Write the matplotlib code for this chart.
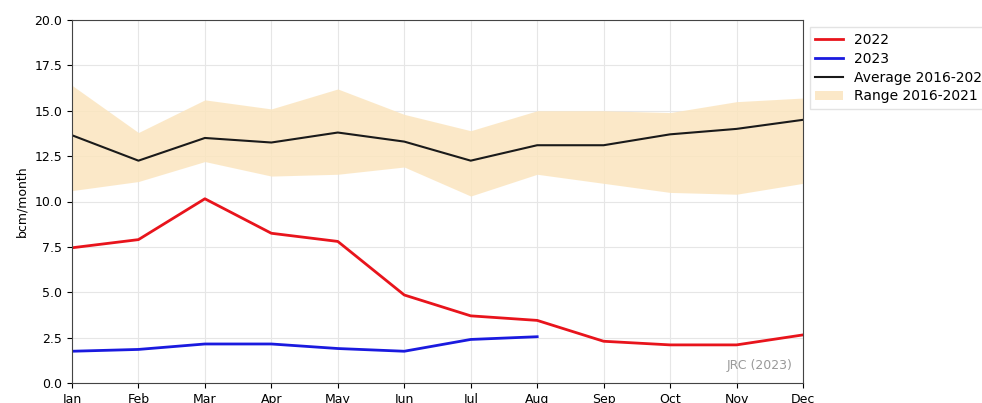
import numpy as np
import matplotlib.pyplot as plt

months = ['Jan', 'Feb', 'Mar', 'Apr', 'May', 'Jun', 'Jul', 'Aug', 'Sep', 'Oct', 'Nov', 'Dec']
y2022 = [7.45, 7.9, 10.15, 8.25, 7.8, 4.85, 3.7, 3.45, 2.3, 2.1, 2.1, 2.65]
y2023 = [1.75, 1.85, 2.15, 2.15, 1.9, 1.75, 2.4, 2.55]
avg = [13.65, 12.25, 13.5, 13.25, 13.8, 13.3, 12.25, 13.1, 13.1, 13.7, 14.0, 14.5]
range_hi = [16.4, 13.8, 15.6, 15.1, 16.2, 14.8, 13.9, 15.0, 15.0, 14.9, 15.5, 15.7]
range_lo = [10.6, 11.1, 12.2, 11.4, 11.5, 11.9, 10.3, 11.5, 11.0, 10.5, 10.4, 11.0]

x = np.arange(len(months))

fig = plt.figure(figsize=(9.82, 4.03), dpi=100)
ax = fig.add_axes([0.0733, 0.0496, 0.7444, 0.9008])

ax.plot(x, y2022, color='#e8141c', linewidth=2, label='2022')
ax.plot(x[:len(y2023)], y2023, color='#1a1adf', linewidth=2, label='2023')
ax.plot(x, avg, color='#1a1a1a', linewidth=1.5, label='Average 2016-2021')
ax.fill_between(x, range_lo, range_hi, color='#fbe5bf', alpha=0.85, linewidth=0, label='Range 2016-2021')

ax.set_xlim(0, 11)
ax.set_ylim(0, 20)
ax.set_xticks(x)
ax.set_xticklabels(months, fontsize=9)
ax.set_yticks(np.arange(0, 20.1, 2.5))
ax.tick_params(axis='y', labelsize=9)
ax.set_ylabel('bcm/month', fontsize=9)
ax.grid(True, color='#e6e6e6', linewidth=0.8)
ax.set_axisbelow(True)
for s in ax.spines.values():
    s.set_color('#444444')

ax.text(0.985, 0.03, 'JRC (2023)', transform=ax.transAxes, ha='right', va='bottom',
        color='#999999', fontsize=9)

ax.legend(loc='upper left', bbox_to_anchor=(1.009, 0.98), fontsize=10, frameon=True,
          fancybox=False, edgecolor='#dddddd', borderaxespad=0.0, labelspacing=0.35)

fig.savefig('out.png', dpi=100)
